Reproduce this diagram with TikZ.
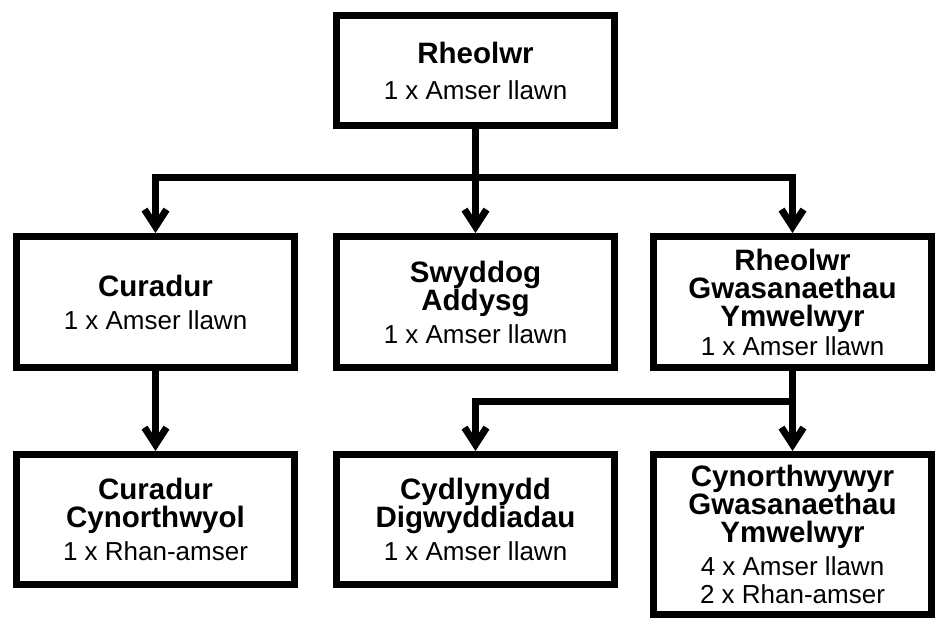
\documentclass[tikz,border=0pt]{standalone}
\usepackage{fontspec}
\setmainfont{Liberation Sans}
\usetikzlibrary{arrows.meta}
\newcommand{\bl}[1]{{\bfseries\fontsize{29.5}{28}\selectfont #1}}
\tikzset{
  box/.style={draw=black, line width=7pt, fill=white, rectangle, minimum width=278pt,
    inner sep=0pt, align=center, font=\fontsize{26}{28}\selectfont},
  arr/.style={line width=7pt, -{Straight Barb[length=17pt,width=22pt]}},
  ln/.style={line width=7pt}
}
\begin{document}
\begin{tikzpicture}[x=1pt,y=-1pt]
\useasboundingbox[fill=white] (0,0) rectangle (949,636);
\node[box, minimum height=110pt] (top) at (475.5,70.5) {\bl{Rheolwr}\\[8pt]1 x Amser llawn};
\node[box, minimum height=131pt] (cur) at (155.5,302) {\bl{Curadur}\\[5pt]1 x Amser llawn};
\node[box, minimum height=131pt] (swy) at (475.5,302) {\bl{Swyddog}\\\bl{Addysg}\\[5pt]1 x Amser llawn};
\node[box, minimum height=131pt] (rgv) at (792.5,302) {\bl{Rheolwr}\\\bl{Gwasanaethau}\\\bl{Ymwelwyr}\\[1pt]1 x Amser llawn};
\node[box, minimum height=130pt] (cc) at (155.5,519.5) {\bl{Curadur}\\\bl{Cynorthwyol}\\[5pt]1 x Rhan-amser};
\node[box, minimum height=130pt] (cd) at (475.5,519.5) {\bl{Cydlynydd}\\\bl{Digwyddiadau}\\[5pt]1 x Amser llawn};
\node[box, minimum height=160pt] (cgv) at (792.5,534.5) {\bl{Cynorthwywyr}\\\bl{Gwasanaethau}\\\bl{Ymwelwyr}\\[5pt]4 x Amser llawn\\2 x Rhan-amser};
\coordinate (bus1) at (475.5,178);
\coordinate (bus2) at (792.5,401);
\draw[arr] (top.south) -- (swy.north);
\draw[arr] (bus1) -| (cur.north);
\draw[arr] (bus1) -| (rgv.north);
\draw[arr] (cur.south) -- (cc.north);
\draw[arr] (rgv.south) -- (cgv.north);
\draw[arr] (bus2) -| (cd.north);
\end{tikzpicture}
\end{document}
